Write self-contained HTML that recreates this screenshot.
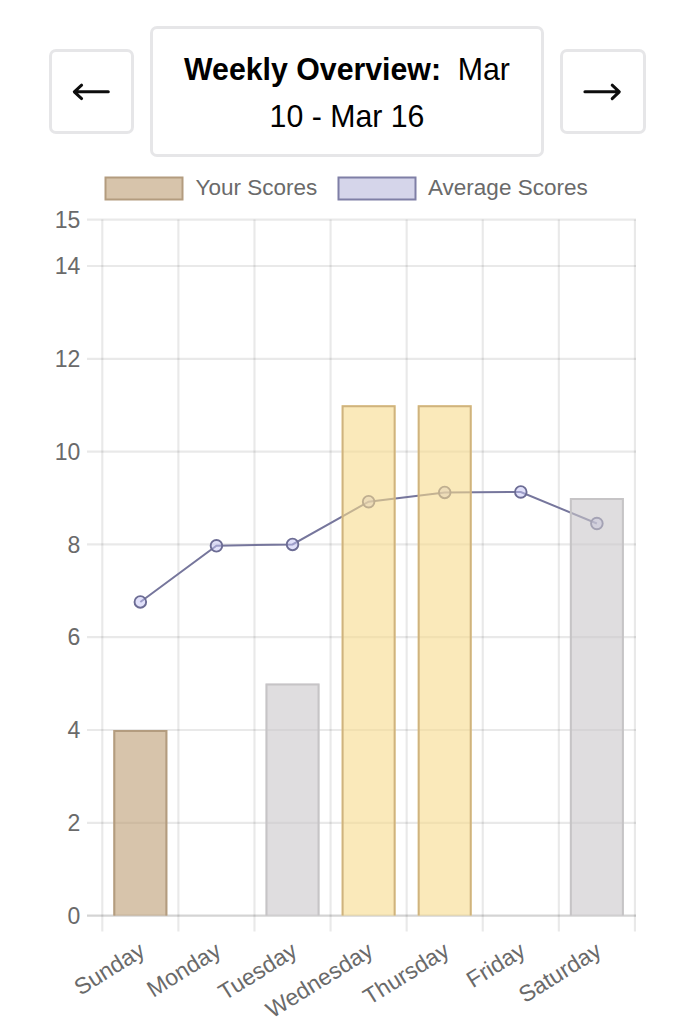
<!DOCTYPE html>
<html><head><meta charset="utf-8"><style>
html,body{margin:0;padding:0;background:#fff;}
body{width:674px;height:1024px;position:relative;overflow:hidden;font-family:"Liberation Sans",sans-serif;}
.btn{position:absolute;box-sizing:border-box;border:3px solid #e6e6e8;border-radius:7px;background:#fff;}
#title{position:absolute;left:149.5px;top:26px;width:394px;height:131px;box-sizing:border-box;border:3px solid #e6e6e8;border-radius:7px;text-align:center;color:#000;}
#title .l{position:absolute;left:0;right:0;font-size:32px;line-height:36px;white-space:nowrap;transform:scaleX(0.946);}
svg{position:absolute;left:0;top:0;}
</style></head><body>
<div class="btn" style="left:48.5px;top:49px;width:85.2px;height:84.8px;"></div>
<div class="btn" style="left:559.7px;top:48.8px;width:86px;height:85px;"></div>
<div id="title">
<div class="l" style="top:22px;"><b>Weekly Overview:</b>&nbsp; Mar</div>
<div class="l" style="top:68.5px;">10 - Mar 16</div>
</div>
<svg width="674" height="1024" viewBox="0 0 674 1024">
<g stroke="#0d0d0d" stroke-width="3" fill="none" stroke-linecap="round" stroke-linejoin="round">
<path d="M74.5,91.8 H108.3 M81.6,85.2 L74.3,91.8 L81.6,98.6"/>
<path d="M584.9,91.8 H619 M612.2,85.2 L619.3,91.8 L612.2,98.6"/>
</g>
<rect x="105.5" y="177.5" width="77" height="22" fill="rgba(188,157,115,0.6)" stroke="#b39c7f" stroke-width="2"/>
<rect x="338.5" y="177.5" width="77" height="22" fill="rgba(185,185,220,0.6)" stroke="#7f7fa6" stroke-width="2"/>
<g font-size="22.5" fill="#6a6a6a">
<text x="195.5" y="195">Your Scores</text>
<text x="428" y="195">Average Scores</text>
</g>
<line x1="87" y1="915.60" x2="636" y2="915.60" stroke="rgba(0,0,0,0.17)" stroke-width="2.2"/><line x1="87" y1="822.80" x2="636" y2="822.80" stroke="rgba(0,0,0,0.085)" stroke-width="2.2"/><line x1="87" y1="730.00" x2="636" y2="730.00" stroke="rgba(0,0,0,0.085)" stroke-width="2.2"/><line x1="87" y1="637.20" x2="636" y2="637.20" stroke="rgba(0,0,0,0.085)" stroke-width="2.2"/><line x1="87" y1="544.40" x2="636" y2="544.40" stroke="rgba(0,0,0,0.085)" stroke-width="2.2"/><line x1="87" y1="451.60" x2="636" y2="451.60" stroke="rgba(0,0,0,0.085)" stroke-width="2.2"/><line x1="87" y1="358.80" x2="636" y2="358.80" stroke="rgba(0,0,0,0.085)" stroke-width="2.2"/><line x1="87" y1="266.00" x2="636" y2="266.00" stroke="rgba(0,0,0,0.085)" stroke-width="2.2"/><line x1="87" y1="219.60" x2="636" y2="219.60" stroke="rgba(0,0,0,0.085)" stroke-width="2.2"/><line x1="102.30" y1="219.60" x2="102.30" y2="931.6" stroke="rgba(0,0,0,0.085)" stroke-width="2.2"/><line x1="178.39" y1="219.60" x2="178.39" y2="931.6" stroke="rgba(0,0,0,0.085)" stroke-width="2.2"/><line x1="254.48" y1="219.60" x2="254.48" y2="931.6" stroke="rgba(0,0,0,0.085)" stroke-width="2.2"/><line x1="330.57" y1="219.60" x2="330.57" y2="931.6" stroke="rgba(0,0,0,0.085)" stroke-width="2.2"/><line x1="406.66" y1="219.60" x2="406.66" y2="931.6" stroke="rgba(0,0,0,0.085)" stroke-width="2.2"/><line x1="482.75" y1="219.60" x2="482.75" y2="931.6" stroke="rgba(0,0,0,0.085)" stroke-width="2.2"/><line x1="558.84" y1="219.60" x2="558.84" y2="931.6" stroke="rgba(0,0,0,0.085)" stroke-width="2.2"/><line x1="634.93" y1="219.60" x2="634.93" y2="931.6" stroke="rgba(0,0,0,0.085)" stroke-width="2.2"/>
<g font-size="23" fill="#6a6a6a"><text x="80.3" y="923.70" text-anchor="end">0</text><text x="80.3" y="830.90" text-anchor="end">2</text><text x="80.3" y="738.10" text-anchor="end">4</text><text x="80.3" y="645.30" text-anchor="end">6</text><text x="80.3" y="552.50" text-anchor="end">8</text><text x="80.3" y="459.70" text-anchor="end">10</text><text x="80.3" y="366.90" text-anchor="end">12</text><text x="80.3" y="274.10" text-anchor="end">14</text><text x="80.3" y="227.70" text-anchor="end">15</text></g>
<path d="M140.34,601.94 L216.44,545.79 L292.53,544.40 L368.62,501.71 L444.71,492.43 L520.79,491.97 L596.88,523.52" fill="none" stroke="#76769c" stroke-width="2"/><circle cx="140.34" cy="601.94" r="5.8" fill="rgba(195,195,245,0.5)" stroke="#6c6c94" stroke-width="1.9"/><circle cx="216.44" cy="545.79" r="5.8" fill="rgba(195,195,245,0.5)" stroke="#6c6c94" stroke-width="1.9"/><circle cx="292.53" cy="544.40" r="5.8" fill="rgba(195,195,245,0.5)" stroke="#6c6c94" stroke-width="1.9"/><circle cx="368.62" cy="501.71" r="5.8" fill="rgba(195,195,245,0.5)" stroke="#6c6c94" stroke-width="1.9"/><circle cx="444.71" cy="492.43" r="5.8" fill="rgba(195,195,245,0.5)" stroke="#6c6c94" stroke-width="1.9"/><circle cx="520.79" cy="491.97" r="5.8" fill="rgba(195,195,245,0.5)" stroke="#6c6c94" stroke-width="1.9"/><circle cx="596.88" cy="523.52" r="5.8" fill="rgba(195,195,245,0.5)" stroke="#6c6c94" stroke-width="1.9"/>
<rect x="113.34" y="730.00" width="54" height="185.60" fill="rgba(188,157,115,0.6)"/><path d="M114.34,915.60 V731.00 H166.34 V915.60" fill="none" stroke="#b39c7f" stroke-width="2"/><rect x="265.53" y="683.60" width="54" height="232.00" fill="rgba(202,198,202,0.6)"/><path d="M266.53,915.60 V684.60 H318.53 V915.60" fill="none" stroke="#c6c4c6" stroke-width="2"/><rect x="341.62" y="405.20" width="54" height="510.40" fill="rgba(247,218,140,0.6)"/><path d="M342.62,915.60 V406.20 H394.62 V915.60" fill="none" stroke="#cfb37e" stroke-width="2"/><rect x="417.71" y="405.20" width="54" height="510.40" fill="rgba(247,218,140,0.6)"/><path d="M418.71,915.60 V406.20 H470.71 V915.60" fill="none" stroke="#cfb37e" stroke-width="2"/><rect x="569.88" y="498.00" width="54" height="417.60" fill="rgba(202,198,202,0.6)"/><path d="M570.88,915.60 V499.00 H622.88 V915.60" fill="none" stroke="#c6c4c6" stroke-width="2"/>
<g font-size="23" fill="#6a6a6a"><text transform="translate(143.34,949.5) rotate(-32)" text-anchor="end" dominant-baseline="middle">Sunday</text><text transform="translate(219.44,949.5) rotate(-32)" text-anchor="end" dominant-baseline="middle">Monday</text><text transform="translate(295.53,949.5) rotate(-32)" text-anchor="end" dominant-baseline="middle">Tuesday</text><text transform="translate(371.62,949.5) rotate(-32)" text-anchor="end" dominant-baseline="middle">Wednesday</text><text transform="translate(447.71,949.5) rotate(-32)" text-anchor="end" dominant-baseline="middle">Thursday</text><text transform="translate(523.79,949.5) rotate(-32)" text-anchor="end" dominant-baseline="middle">Friday</text><text transform="translate(599.88,949.5) rotate(-32)" text-anchor="end" dominant-baseline="middle">Saturday</text></g>
</svg>
</body></html>
